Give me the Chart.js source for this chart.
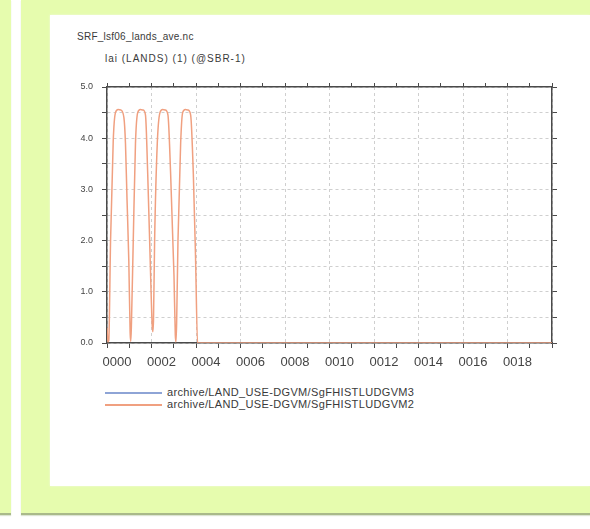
<!DOCTYPE html>
<html>
<head>
<meta charset="utf-8">
<script src="https://cdn.jsdelivr.net/npm/chart.js@4"></script>
<style>
  html, body { margin:0; padding:0; background:#ffffff; width:590px; height:529px; overflow:hidden; font-family:"Liberation Sans", Arial, sans-serif; }
  .green { position:absolute; background:#e6fcae; border-bottom:2px solid #a9b98a; box-shadow:0 1px 1px #dde4d4; }
  #g1 { left:0; top:0; width:11px; height:513px; }
  #g2 { left:21px; top:0; width:569px; height:513px; }
  #panel { position:absolute; left:50px; top:15px; width:540px; height:471px; background:#ffffff; box-shadow:0 0 2px #f2f8e4; }
  #wrap { position:absolute; left:0; top:0; width:590px; height:529px; }
  .t { position:absolute; color:#3a3a3a; white-space:nowrap; font-size:10px; }
  #t1 { left:77px; top:31px; letter-spacing:0.25px; }
  #t2 { left:105px; top:53px; letter-spacing:1px; }
  .leg { position:absolute; left:105px; font-size:11px; color:#3a3a3a; white-space:nowrap; letter-spacing:0.35px; }
  .leg span.ln { display:inline-block; width:57px; height:0; border-top:2px solid; vertical-align:middle; margin-right:5px; }
</style>
</head>
<body>
<div class="green" id="g1"></div>
<div class="green" id="g2"></div>
<div id="panel"></div>
<div class="t" id="t1">SRF_lsf06_lands_ave.nc</div>
<div class="t" id="t2">lai (LANDS) (1) (@SBR-1)</div>
<div id="legend"></div>
<div id="wrap"><canvas id="c" width="590" height="529"></canvas></div>
<script>
// ---- data ----
const seriesLabels = [
  "archive/LAND_USE-DGVM/SgFHISTLUDGVM3",
  "archive/LAND_USE-DGVM/SgFHISTLUDGVM2"
];
const seriesColors = ["#8ea4d6", "#f0a080"];
// model years (fractional) and LAI values of the visible (orange) series
const years = [0, 0.04, 0.08, 0.16, 0.28, 0.38, 0.5, 0.62, 0.76, 0.83, 0.90, 0.98, 1.04, 1.07,
  1.10, 1.18, 1.28, 1.38, 1.5, 1.62, 1.73, 1.83, 1.96, 2.03, 2.06,
  2.09, 2.14, 2.26, 2.38, 2.5, 2.62, 2.74, 2.86, 3.01, 3.07, 3.10,
  3.13, 3.19, 3.31, 3.40, 3.52, 3.64, 3.76, 3.88, 3.98, 4.07, 20];
const laiRun2 = [0.3, 0.02, 0.05, 2.0, 3.95, 4.5, 4.56, 4.55, 4.4, 3.9, 2.8, 1.6, 0.2, 0.03,
  0.4, 2.0, 3.9, 4.5, 4.56, 4.55, 4.45, 3.3, 1.33, 0.35, 0.22,
  0.45, 2.0, 3.9, 4.5, 4.56, 4.55, 4.45, 3.3, 1.33, 0.15, 0.02,
  0.4, 2.0, 3.9, 4.5, 4.56, 4.55, 4.45, 3.3, 1.66, 0.0, 0.0];
const laiRun3 = []; // not visible in the reference
const xTickYears = [0, 2, 4, 6, 8, 10, 12, 14, 16, 18];
const xMin = 0, xMax = 20, yMin = 0, yMax = 5;

// ---- legend (HTML text) ----
const legendTops = [386, 398];
seriesLabels.forEach((lab, i) => {
  const d = document.createElement('div');
  d.className = 'leg';
  d.style.top = legendTops[i] + 'px';
  d.innerHTML = '<span class="ln" style="border-color:' + seriesColors[i] + '"></span>';
  d.appendChild(document.createTextNode(lab));
  document.getElementById('legend').appendChild(d);
});

const toPts = (xs, ys) => ys.map((v, i) => ({x: xs[i], y: v}));
const axisCol = '#4a4a4a';
const gridCol = '#cfcfcf';

new Chart(document.getElementById('c'), {
  type: 'line',
  data: {
    datasets: [
      { label: seriesLabels[0], data: toPts(years, laiRun3), borderColor: seriesColors[0], borderWidth: 1.5, pointRadius: 0, xAxisID: 'x', yAxisID: 'y' },
      { label: seriesLabels[1], data: toPts(years, laiRun2), borderColor: seriesColors[1], borderWidth: 1.5, pointRadius: 0, cubicInterpolationMode: 'monotone', xAxisID: 'x', yAxisID: 'y' }
    ]
  },
  options: {
    responsive: false,
    animation: false,
    layout: { padding: 0 },
    plugins: { legend: { display: false }, title: { display: false }, tooltip: { enabled: false } },
    scales: {
      x: {
        type: 'linear', position: 'bottom', min: xMin, max: xMax,
        afterFit: s => { s.height = 186; },
        afterBuildTicks: s => { const t = []; for (let v = xMin; v <= xMax; v++) t.push({value: v}); s.ticks = t; },
        ticks: {
          autoSkip: false, maxRotation: 0, padding: 7, labelOffset: 10,
          color: '#444', font: { family: 'Liberation Sans', size: 13 },
          callback: v => xTickYears.includes(v) ? String(v).padStart(4, '0') : ''
        },
        grid: {
          color: c => (c.tick && c.tick.value % 2 === 0) ? gridCol : 'rgba(0,0,0,0)',
          lineWidth: 1, tickColor: axisCol, tickLength: 5, tickWidth: 1
        },
        border: { color: axisCol, width: 1.5, dash: [3, 3] }
      },
      x2: {
        type: 'linear', position: 'top', min: xMin, max: xMax,
        afterFit: s => { s.height = 87; },
        afterBuildTicks: s => { const t = []; for (let v = xMin; v <= xMax; v++) t.push({value: v}); s.ticks = t; },
        ticks: { display: false },
        grid: { drawOnChartArea: false, tickColor: axisCol, tickLength: 4 },
        border: { color: axisCol, width: 1.5 }
      },
      y: {
        type: 'linear', position: 'left', min: yMin, max: yMax,
        afterFit: s => { s.width = 107; },
        ticks: {
          stepSize: 0.5, padding: 9, color: '#444', font: { family: 'Liberation Sans', size: 9 },
          callback: v => (Math.abs(v - Math.round(v)) < 1e-9) ? v.toFixed(1) : ''
        },
        grid: { color: gridCol, lineWidth: 1, tickColor: axisCol, tickLength: 5 },
        border: { color: axisCol, width: 1.5, dash: [3, 3] }
      },
      y2: {
        type: 'linear', position: 'right', min: yMin, max: yMax,
        afterFit: s => { s.width = 38; },
        ticks: { display: false, stepSize: 0.5 },
        grid: { drawOnChartArea: false, tickColor: axisCol, tickLength: 5 },
        border: { color: axisCol, width: 1.5 }
      }
    }
  }
});
</script>
</body>
</html>
